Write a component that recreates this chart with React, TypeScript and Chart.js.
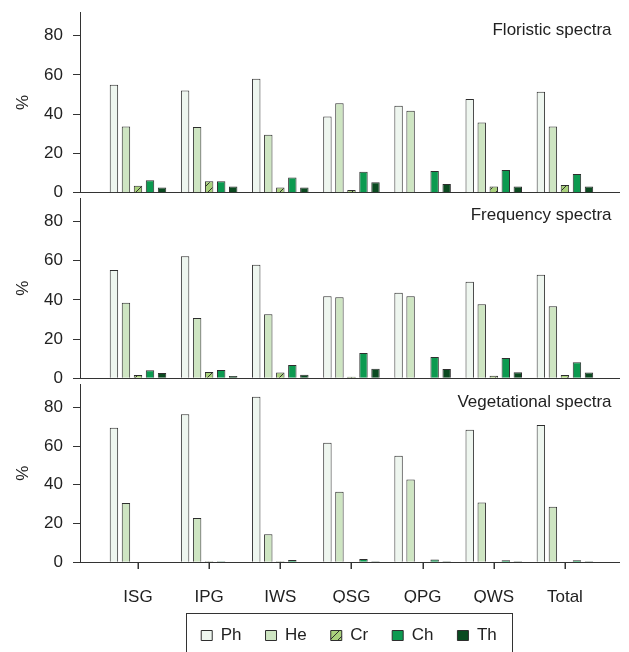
import React, { useEffect, useRef } from 'react';
import { Chart, registerables } from 'chart.js';

Chart.register(...registerables);

// ---------- data ----------
const CATEGORIES = ['ISG', 'IPG', 'IWS', 'QSG', 'QPG', 'QWS', 'Total'];
const SERIES = ['Ph', 'He', 'Cr', 'Ch', 'Th'];
const PANEL_TITLES = ['Floristic spectra', 'Frequency spectra', 'Vegetational spectra'];
const Y_LABEL = '%';
const Y_MAX = 92;
const Y_STEP = 20;

const FLOR_PH = [55, 52, 58, 38.8, 44.3, 47.7, 51.4];
const FLOR_HE = [33.7, 33.5, 29.5, 45.5, 41.7, 35.7, 33.7];
const FLOR_CR = [3.6, 5.8, 2.7, 1.4, 0, 3.1, 3.9];
const FLOR_CH = [6.3, 5.8, 7.8, 10.7, 11.1, 11.6, 9.5];
const FLOR_TH = [2.7, 3.2, 2.7, 5.3, 4.4, 3.1, 3.1];

const FREQ_PH = [55.2, 62.3, 57.9, 41.9, 43.7, 49.3, 52.8];
const FREQ_HE = [38.6, 30.8, 32.7, 41.4, 41.9, 37.8, 36.8];
const FREQ_CR = [1.7, 3.2, 2.9, 0.8, 0, 1.3, 1.7];
const FREQ_CH = [4.1, 4.2, 6.8, 12.9, 10.9, 10.4, 8.2];
const FREQ_TH = [2.7, 1.2, 1.8, 4.9, 4.7, 3.1, 2.9];

const VEG_PH = [69.4, 76.4, 85.4, 61.7, 55, 68.4, 70.8];
const VEG_HE = [30.6, 22.9, 14.5, 36.4, 42.7, 30.8, 28.7];
const VEG_CR = [0, 0.5, 0.5, 0, 0, 0, 0];
const VEG_CH = [0, 0.5, 1.2, 1.7, 1.5, 1.0, 1.0];
const VEG_TH = [0, 0, 0, 0.5, 0.5, 0.5, 0.5];

const PANEL_VALUES = [
  [FLOR_PH, FLOR_HE, FLOR_CR, FLOR_CH, FLOR_TH],
  [FREQ_PH, FREQ_HE, FREQ_CR, FREQ_CH, FREQ_TH],
  [VEG_PH, VEG_HE, VEG_CR, VEG_CH, VEG_TH],
];

// ---------- style / layout ----------
const FONT_FAMILY = '"Liberation Sans", Arial, Helvetica, sans-serif';
const TEXT = '#222222';
const AXIS = '#333333';
const BAR_BORDER = '#2e2e2e';
const FILLS = ['#eef6ef', '#cee5c2', '#a9d27c', '#0c9a50', '#0a4a20'];

const W = 629;
const BOXES = [
  { top: 0, height: 215, padTop: 12, padBottom: 22.3, titleBase: 35 },
  { top: 185, height: 215, padTop: 13, padBottom: 21.7, titleBase: 35 },
  { top: 370, height: 300, padTop: 14, padBottom: 16, titleBase: 36.7 },
];

function makeHatch(): CanvasPattern | string {
  const c = document.createElement('canvas');
  c.width = 8;
  c.height = 8;
  const g = c.getContext('2d');
  if (!g) return FILLS[2];
  g.fillStyle = FILLS[2];
  g.fillRect(0, 0, 8, 8);
  g.strokeStyle = BAR_BORDER;
  g.lineWidth = 1;
  g.beginPath();
  g.moveTo(0, 8);
  g.lineTo(8, 0);
  g.moveTo(-1, 1);
  g.lineTo(1, -1);
  g.moveTo(7, 9);
  g.lineTo(9, 7);
  g.stroke();
  return g.createPattern(c, 'repeat') || FILLS[2];
}

function buildConfig(p: number, hatch: CanvasPattern | string): any {
  const isBottom = p === 2;
  const box = BOXES[p];
  const font = { family: FONT_FAMILY, size: 17 };
  const datasets = SERIES.map((name, s) => ({
    label: name,
    data: PANEL_VALUES[p][s].map((v, i) => ({ x: i, y: v })),
    backgroundColor: s === 2 ? hatch : FILLS[s],
    borderColor: BAR_BORDER,
    borderWidth: 1,
    barPercentage: 0.7,
    categoryPercentage: 0.845,
  }));

  const titlePlugin = {
    id: 'panelTitle',
    afterDraw(chart: any) {
      const ctx = chart.ctx;
      ctx.save();
      ctx.font = `17px ${FONT_FAMILY}`;
      ctx.fillStyle = TEXT;
      ctx.textAlign = 'right';
      ctx.textBaseline = 'alphabetic';
      ctx.fillText(PANEL_TITLES[p], chart.chartArea.right - 7.5, box.titleBase);
      ctx.restore();
    },
  };

  // tick marks below the bottom category axis, placed by the x scale's own ticks
  const xTickPlugin = {
    id: 'xTickMarks',
    afterDraw(chart: any) {
      if (!isBottom) return;
      const xs = chart.scales.x;
      const ctx = chart.ctx;
      const y0 = Math.round(chart.chartArea.bottom);
      ctx.save();
      ctx.fillStyle = AXIS;
      CATEGORIES.forEach((_c, i) => {
        const px = Math.round(xs.getPixelForValue(i));
        ctx.fillRect(px - 0.5, y0, 1.5, 7);
      });
      ctx.restore();
    },
  };

  const legendPlugin = {
    id: 'legendFrame',
    afterLayout(chart: any) {
      const lg = chart.legend;
      if (!lg || !isBottom) return;
      lg.left = 159;
      lg.right = 539;
      lg.width = 380;
    },
    afterDraw(chart: any) {
      const lg = chart.legend;
      if (!lg || !isBottom || !lg.legendHitBoxes || !lg.legendHitBoxes.length) return;
      const hb = lg.legendHitBoxes;
      const l = Math.round(hb[0].left - 15) + 0.5;
      const last = hb[hb.length - 1];
      const r = Math.round(last.left + last.width + 15) + 0.5;
      const t = Math.round(lg.top + 9.5) + 0.5;
      const ctx = chart.ctx;
      ctx.save();
      ctx.strokeStyle = AXIS;
      ctx.lineWidth = 1;
      ctx.strokeRect(l, t, r - l, 200);
      ctx.restore();
    },
  };

  return {
    type: 'bar',
    data: { datasets },
    options: {
      animation: false,
      responsive: false,
      devicePixelRatio: 1,
      layout: { padding: { left: 0, right: 10, top: box.padTop, bottom: box.padBottom } },
      plugins: {
        tooltip: { enabled: false },
        title: { display: false },
        legend: {
          display: isBottom,
          position: 'bottom',
          labels: {
            font,
            color: TEXT,
            boxWidth: 11,
            boxHeight: 10,
            padding: 24,
          },
        },
      },
      scales: {
        x: {
          type: 'linear',
          min: -0.815,
          max: 6.76,
          offset: false,
          grid: {
            display: false,
            drawOnChartArea: false,
          },
          border: { display: true, color: AXIS, width: 1 },
          ticks: {
            display: isBottom,
            stepSize: 1,
            includeBounds: false,
            autoSkip: false,
            maxRotation: 0,
            minRotation: 0,
            padding: 17,
            font,
            color: TEXT,
            callback: (v: any) => (CATEGORIES[v] !== undefined ? CATEGORIES[v] : ''),
          },
          afterFit: (s: any) => {
            s.height = isBottom ? 40.7 : 0;
            s.paddingLeft = 0;
            s.paddingRight = 0;
          },
        },
        y: {
          min: 0,
          max: Y_MAX,
          grid: {
            display: true,
            drawOnChartArea: false,
            drawTicks: true,
            tickLength: 7,
            color: AXIS,
            tickColor: AXIS,
          },
          border: { display: true, color: AXIS, width: 1 },
          ticks: {
            stepSize: Y_STEP,
            includeBounds: false,
            padding: 10,
            font,
            color: TEXT,
          },
          title: {
            display: true,
            text: Y_LABEL,
            font,
            color: TEXT,
            padding: { top: 13, bottom: 0 },
          },
          afterFit: (s: any) => {
            s.width = 80;
            s.paddingTop = 0;
            s.paddingBottom = 0;
          },
        },
      },
    },
    plugins: [titlePlugin, legendPlugin, xTickPlugin],
  };
}

export default function App() {
  const refs = useRef<(HTMLCanvasElement | null)[]>([]);

  useEffect(() => {
    const hatch = makeHatch();
    const charts: Chart[] = [];
    BOXES.forEach((_, p) => {
      const c = refs.current[p];
      if (c) charts.push(new Chart(c, buildConfig(p, hatch)));
    });
    return () => charts.forEach((c) => c.destroy());
  }, []);

  return (
    <div
      style={{
        position: 'absolute',
        left: 0,
        top: 0,
        width: W,
        height: 652,
        overflow: 'hidden',
        background: '#ffffff',
      }}
    >
      {BOXES.map((b, p) => (
        <canvas
          key={p}
          ref={(el) => {
            refs.current[p] = el;
          }}
          width={W}
          height={b.height}
          style={{ position: 'absolute', left: 0, top: b.top, width: W, height: b.height }}
        />
      ))}
    </div>
  );
}
